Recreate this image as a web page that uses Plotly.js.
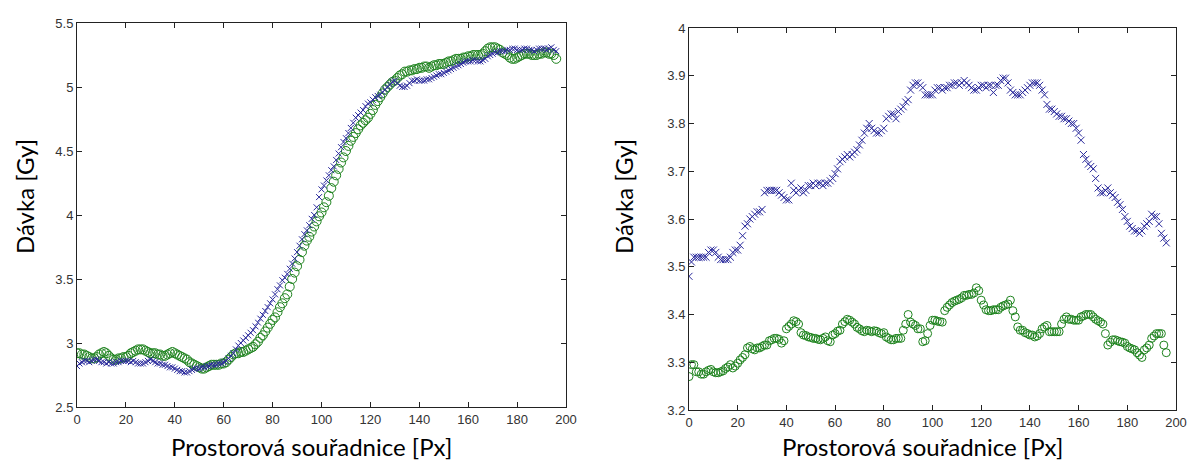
<!DOCTYPE html>
<html>
<head>
<meta charset="utf-8">
<script src="https://cdn.plot.ly/plotly-3.0.1.min.js"></script>
<style>html,body{margin:0;padding:0;background:#fff;}#chart{width:1189px;height:463px;}</style>
</head>
<body>
<div id="chart"></div>
<script>
// Left panel: dose profile across the field edge
const LEFT_BLUE = [
2.82,2.84,2.85,2.86,2.86,2.85,2.86,2.87,2.87,2.86,
2.85,2.85,2.84,2.85,2.84,2.84,2.85,2.85,2.86,2.86,
2.86,2.86,2.85,2.86,2.85,2.84,2.84,2.84,2.85,2.86,
2.87,2.86,2.85,2.84,2.84,2.83,2.83,2.82,2.81,2.81,
2.80,2.79,2.78,2.78,2.77,2.77,2.78,2.79,2.80,2.80,
2.80,2.81,2.81,2.82,2.82,2.83,2.83,2.83,2.84,2.84,
2.85,2.86,2.88,2.90,2.92,2.95,2.98,3.00,3.02,3.04,
3.06,3.08,3.10,3.13,3.16,3.19,3.22,3.25,3.28,3.31,
3.34,3.38,3.42,3.45,3.49,3.51,3.54,3.58,3.62,3.66,
3.71,3.76,3.81,3.85,3.88,3.92,3.97,4.00,4.06,4.14,
4.20,4.23,4.27,4.31,4.35,4.38,4.43,4.48,4.53,4.57,
4.60,4.64,4.68,4.72,4.76,4.78,4.80,4.82,4.85,4.87,
4.88,4.90,4.92,4.93,4.94,4.96,4.98,5.00,5.02,5.04,
5.05,5.03,5.01,5.00,5.00,5.01,5.03,5.05,5.05,5.06,
5.05,5.05,5.05,5.06,5.06,5.07,5.08,5.09,5.10,5.10,
5.11,5.12,5.13,5.14,5.15,5.16,5.17,5.18,5.19,5.20,
5.20,5.20,5.21,5.21,5.20,5.20,5.21,5.22,5.24,5.25,
5.26,5.27,5.27,5.28,5.28,5.28,5.29,5.29,5.30,5.30,
5.29,5.29,5.29,5.30,5.30,5.29,5.29,5.28,5.29,5.30,
5.30,5.30,5.29,5.30,5.31,5.29,5.28
];
const LEFT_GREEN = [
2.92,2.92,2.91,2.91,2.90,2.89,2.88,2.88,2.89,2.91,
2.92,2.93,2.92,2.90,2.88,2.87,2.87,2.88,2.88,2.89,
2.89,2.90,2.92,2.93,2.94,2.95,2.95,2.95,2.94,2.93,
2.92,2.92,2.92,2.91,2.91,2.90,2.90,2.91,2.92,2.93,
2.92,2.91,2.90,2.89,2.88,2.87,2.85,2.84,2.83,2.82,
2.81,2.80,2.80,2.81,2.82,2.83,2.83,2.83,2.83,2.84,
2.84,2.85,2.87,2.89,2.91,2.92,2.92,2.93,2.93,2.94,
2.95,2.96,2.97,2.99,3.01,3.04,3.06,3.09,3.12,3.15,
3.18,3.20,3.24,3.28,3.31,3.35,3.38,3.44,3.50,3.55,
3.60,3.65,3.71,3.76,3.80,3.83,3.87,3.91,3.95,3.99,
4.02,4.06,4.10,4.15,4.21,4.26,4.31,4.36,4.41,4.45,
4.50,4.54,4.58,4.61,4.64,4.67,4.70,4.72,4.74,4.76,
4.79,4.82,4.86,4.89,4.92,4.95,4.98,5.00,5.02,5.04,
5.05,5.07,5.09,5.10,5.12,5.12,5.13,5.13,5.14,5.14,
5.15,5.15,5.16,5.16,5.15,5.16,5.17,5.17,5.18,5.18,
5.18,5.19,5.20,5.20,5.21,5.22,5.22,5.22,5.23,5.23,
5.24,5.24,5.25,5.25,5.25,5.25,5.26,5.28,5.30,5.31,
5.31,5.31,5.30,5.29,5.27,5.26,5.25,5.23,5.22,5.22,
5.23,5.24,5.25,5.26,5.26,5.26,5.25,5.25,5.25,5.26,
5.26,5.27,5.27,5.26,5.26,5.25,5.22
];
// Right panel: dose profile in the field
const RIGHT_BLUE = [
3.48,3.51,3.52,3.52,3.52,3.52,3.52,3.52,3.53,3.535,
3.535,3.53,3.52,3.515,3.515,3.515,3.515,3.52,3.53,3.535,
3.535,3.545,3.565,3.585,3.59,3.60,3.605,3.61,3.615,3.615,
3.62,3.655,3.66,3.66,3.66,3.66,3.66,3.655,3.65,3.645,
3.64,3.64,3.675,3.66,3.655,3.66,3.665,3.655,3.66,3.67,
3.67,3.675,3.67,3.675,3.675,3.67,3.675,3.675,3.68,3.685,
3.695,3.705,3.72,3.725,3.73,3.735,3.73,3.735,3.74,3.745,
3.755,3.765,3.78,3.79,3.80,3.79,3.785,3.78,3.78,3.785,
3.79,3.81,3.815,3.82,3.82,3.81,3.825,3.83,3.835,3.845,
3.85,3.87,3.88,3.885,3.885,3.88,3.875,3.86,3.86,3.86,
3.86,3.87,3.875,3.875,3.87,3.875,3.875,3.88,3.88,3.885,
3.885,3.88,3.885,3.89,3.885,3.88,3.875,3.87,3.87,3.875,
3.88,3.88,3.875,3.88,3.88,3.865,3.88,3.88,3.89,3.895,
3.895,3.885,3.87,3.865,3.86,3.86,3.86,3.865,3.87,3.875,
3.88,3.885,3.885,3.885,3.88,3.87,3.86,3.84,3.83,3.83,
3.825,3.82,3.815,3.815,3.81,3.81,3.805,3.80,3.80,3.79,
3.78,3.765,3.735,3.725,3.715,3.71,3.705,3.685,3.665,3.655,
3.655,3.66,3.665,3.655,3.65,3.645,3.635,3.63,3.62,3.605,
3.595,3.585,3.58,3.575,3.575,3.57,3.575,3.585,3.59,3.595,
3.61,3.605,3.605,3.59,3.57,3.56,3.55
];
const RIGHT_GREEN = [
3.27,3.295,3.295,3.28,3.28,3.275,3.275,3.28,3.283,3.285,
3.28,3.278,3.278,3.28,3.282,3.287,3.29,3.295,3.288,3.292,
3.298,3.305,3.31,3.316,3.33,3.333,3.328,3.326,3.33,3.33,
3.333,3.336,3.336,3.345,3.347,3.35,3.35,3.348,3.34,3.345,
3.37,3.375,3.38,3.387,3.385,3.38,3.362,3.357,3.356,3.353,
3.352,3.35,3.35,3.348,3.347,3.35,3.353,3.345,3.343,3.357,
3.36,3.365,3.367,3.38,3.385,3.39,3.388,3.384,3.38,3.373,
3.37,3.366,3.364,3.367,3.366,3.364,3.366,3.365,3.362,3.36,
3.362,3.353,3.35,3.347,3.347,3.35,3.35,3.35,3.367,3.38,
3.40,3.384,3.38,3.377,3.37,3.37,3.343,3.345,3.36,3.377,
3.388,3.388,3.386,3.385,3.384,3.408,3.415,3.42,3.425,3.428,
3.43,3.432,3.435,3.44,3.44,3.442,3.442,3.445,3.456,3.45,
3.43,3.42,3.41,3.408,3.408,3.41,3.41,3.41,3.415,3.418,
3.42,3.422,3.43,3.408,3.395,3.374,3.367,3.367,3.362,3.36,
3.357,3.357,3.353,3.355,3.36,3.37,3.374,3.377,3.364,3.364,
3.364,3.364,3.364,3.38,3.39,3.395,3.39,3.39,3.388,3.388,
3.388,3.395,3.397,3.40,3.40,3.40,3.395,3.39,3.387,3.384,
3.38,3.36,3.336,3.342,3.347,3.347,3.345,3.343,3.342,3.34,
3.333,3.33,3.328,3.326,3.32,3.315,3.31,3.326,3.33,3.336,
3.35,3.355,3.36,3.36,3.36,3.336,3.32
];
const X_TITLE = 'Prostorová souřadnice [Px]';
const Y_TITLE = 'Dávka [Gy]';

// pixel positions along the profile (index of each sample)
const POS_L = LEFT_BLUE.map((_, i) => i);
const POS_R = RIGHT_BLUE.map((_, i) => i);

const BLUE = '#2a2a9c';
const GREEN = '#1e831e';

const traces = [
  {x: POS_L, y: LEFT_GREEN, xaxis: 'x', yaxis: 'y', mode: 'markers', type: 'scatter',
   marker: {symbol: 'circle-open', size: 9, color: GREEN, line: {width: 1, color: GREEN}}},
  {x: POS_L, y: LEFT_BLUE, xaxis: 'x', yaxis: 'y', mode: 'markers', type: 'scatter',
   marker: {symbol: 'x-thin-open', size: 6, color: BLUE, line: {width: 1, color: BLUE}}},
  {x: POS_R, y: RIGHT_BLUE, xaxis: 'x2', yaxis: 'y2', mode: 'markers', type: 'scatter',
   marker: {symbol: 'x-thin-open', size: 7, color: BLUE, line: {width: 1, color: BLUE}}},
  {x: POS_R, y: RIGHT_GREEN, xaxis: 'x2', yaxis: 'y2', mode: 'markers', type: 'scatter',
   marker: {symbol: 'circle-open', size: 8, color: GREEN, line: {width: 1, color: GREEN}}}
];

const W = 1189, H = 463;
const tickFont = {family: 'Liberation Sans, Arial, sans-serif', size: 13, color: '#333'};
function axis(extra) {
  return Object.assign({
    showline: true, linecolor: '#222', linewidth: 1, mirror: 'ticks',
    ticks: 'inside', ticklen: 5, tickcolor: '#222', tickwidth: 1,
    showgrid: false, zeroline: false, tickfont: tickFont, fixedrange: true
  }, extra);
}
const titleFont = {family: 'Lato, Carlito, Calibri, sans-serif', size: 24, color: '#000'};

const layout = {
  width: W, height: H,
  margin: {l: 0, r: 0, t: 0, b: 0},
  paper_bgcolor: '#fff', plot_bgcolor: '#fff',
  showlegend: false,
  xaxis: axis({domain: [77 / W, 566 / W], range: [0, 200], dtick: 20, tick0: 0, anchor: 'y'}),
  yaxis: axis({domain: [1 - 407 / H, 1 - 23 / H], range: [2.5, 5.5], dtick: 0.5, tick0: 2.5, anchor: 'x'}),
  xaxis2: axis({domain: [689 / W, 1176 / W], range: [0, 200], dtick: 20, tick0: 0, anchor: 'y2'}),
  yaxis2: axis({domain: [1 - 410 / H, 1 - 28 / H], range: [3.2, 4], dtick: 0.1, tick0: 3.2, anchor: 'x2'}),
  annotations: [
    {text: X_TITLE, xref: 'paper', yref: 'paper', x: 311 / W, y: 1 - 446 / H, xanchor: 'center', yanchor: 'middle', showarrow: false, font: titleFont},
    {text: X_TITLE, xref: 'paper', yref: 'paper', x: 922 / W, y: 1 - 446 / H, xanchor: 'center', yanchor: 'middle', showarrow: false, font: titleFont},
    {text: Y_TITLE, xref: 'paper', yref: 'paper', x: 25 / W, y: 1 - 197 / H, xanchor: 'center', yanchor: 'middle', textangle: -90, showarrow: false, font: titleFont},
    {text: Y_TITLE, xref: 'paper', yref: 'paper', x: 624 / W, y: 1 - 197 / H, xanchor: 'center', yanchor: 'middle', textangle: -90, showarrow: false, font: titleFont}
  ]
};

Plotly.newPlot('chart', traces, layout, {staticPlot: true, displayModeBar: false});
</script>
</body>
</html>
